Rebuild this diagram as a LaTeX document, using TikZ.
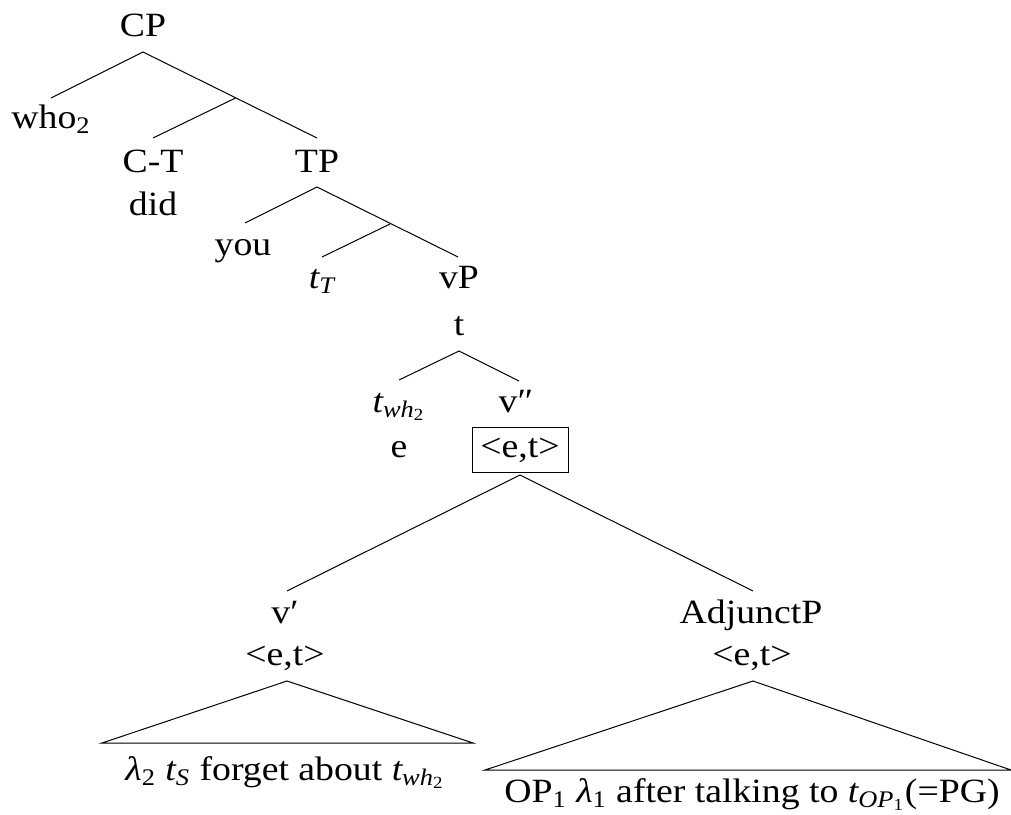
\documentclass[tikz,border=0pt]{standalone}
\usepackage{amsmath}
\usepackage{fontspec}
\setmainfont[FakeStretch=1.11]{Liberation Serif}
\begin{document}
\begin{tikzpicture}[x=0.5pt,y=-0.5pt,
  tn/.style={anchor=base,inner sep=0pt,font=\fontsize{17}{20}\selectfont},
  br/.style={line width=0.5pt}]
\useasboundingbox (0,0) rectangle (1011,814);
% nodes
\node[tn] (CP) at (143,36) {CP};
\node[tn] (who) at (51,128) {who$_{\text{2}}$};
\node[tn] (CT) at (153,172) {C-T};
\node[tn] (did) at (153,215) {did};
\node[tn] (TP) at (317,172) {TP};
\node[tn] (you) at (243,255) {you};
\node[tn] (tT) at (322,288) {$\textit{t}_{\textit{T}}$};
\node[tn] (vP) at (459,288) {vP};
\node[tn] (t) at (459,335) {t};
\node[tn] (twh) at (399,412) {$\textit{t}_{\textit{wh}_{\text{2}}}$};
\node[tn] (e) at (399,457) {e};
\node[tn] (vpp) at (516,412) {v″};
\node[draw,inner sep=0pt,minimum width=48pt,minimum height=22.5pt,font=\fontsize{17}{20}\selectfont] (box) at (520,449.5) {\strut\smash{<e,t>}};
\node[tn] (vp) at (285,623) {v′};
\node[tn] (vpet) at (285,665) {<e,t>};
\node[tn] (adj) at (751,623) {AdjunctP};
\node[tn] (adjet) at (752,665) {<e,t>};
\node[tn] (ltxt) at (285,780) {$\textit{λ}_{\text{2}}$ $\textit{t}_{\textit{S}}$ forget about $\textit{t}_{\textit{wh}_{\text{2}}}$};
\node[tn] (rtxt) at (752,802) {OP$_{\text{1}}$ $\textit{λ}_{\text{1}}$ after talking to $\textit{t}_{\textit{OP}_{\text{1}}}$(=PG)};
% coordinates
\coordinate (aCP) at (143,52);
\coordinate (eWho) at (51,98);
\coordinate (eTP) at (317,138);
\coordinate (b1) at (235.5,98);
\coordinate (eCT) at (153,138);
\coordinate (aTP) at (317,187);
\coordinate (eYou) at (245,223);
\coordinate (evP) at (458,257);
\coordinate (b2) at (390,224);
\coordinate (etT) at (322,257);
\coordinate (at) at (459,351);
\coordinate (etwh) at (399,380);
\coordinate (evpp) at (519,381);
\coordinate (abox) at (520,475);
\coordinate (evp) at (287,591);
\coordinate (eadj) at (753,591);
\coordinate (avp) at (287,681);
\coordinate (lL) at (102,743);
\coordinate (lR) at (473,743);
\coordinate (aadj) at (753,681);
\coordinate (rL) at (485,770);
\coordinate (rR) at (1011,770);
% branches
\draw[br] (eWho) -- (aCP) -- (eTP);
\draw[br] (b1) -- (eCT);
\draw[br] (eYou) -- (aTP) -- (evP);
\draw[br] (b2) -- (etT);
\draw[br] (etwh) -- (at) -- (evpp);
\draw[br] (evp) -- (abox) -- (eadj);
\draw[br] (lL) -- (avp) -- (lR) -- cycle;
\draw[br] (rL) -- (aadj) -- (rR) -- cycle;
\end{tikzpicture}
\end{document}
